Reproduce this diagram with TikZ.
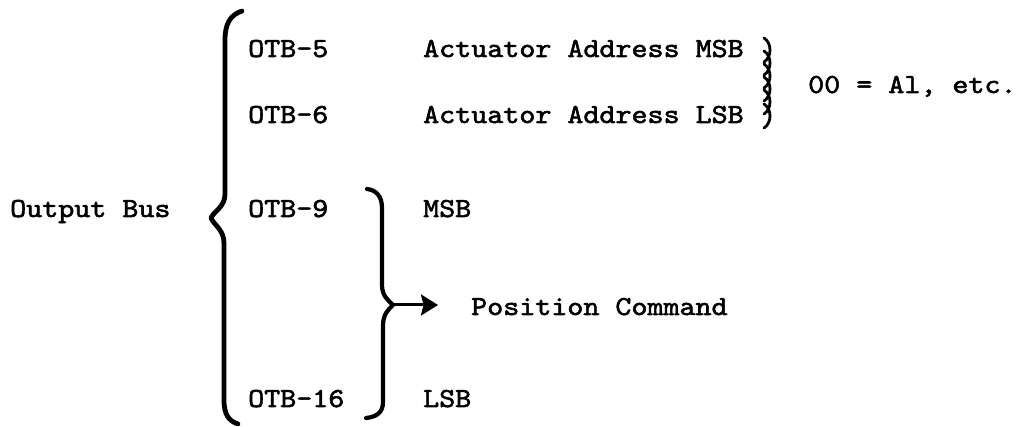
\documentclass[tikz,border=0pt]{standalone}
\usepackage{fontspec}
\newfontfamily\typer{lmmono10-regular.otf}[FakeStretch=1.11,FakeBold=2]
\usetikzlibrary{arrows.meta}
\begin{document}
\begin{tikzpicture}[x=1pt,y=-1pt,
  lbl/.style={anchor=base west,inner sep=0pt,font=\typer\fontsize{27.5}{30}\selectfont},
  bigbrace/.style={line width=4.8pt,line cap=round,line join=round},
  smallbrace/.style={line width=2.8pt,line cap=round},
  pointer/.style={line width=3pt,-{Stealth[length=17pt,width=21pt,inset=2.5pt]}}]
\useasboundingbox (0,0) rectangle (1021,427);

% labels
\node[lbl] (bus)   at (10,217)  {Output Bus};
\node[lbl] (otb5)  at (248,57)  {OTB-5};
\node[lbl] (otb6)  at (248,123) {OTB-6};
\node[lbl] (otb9)  at (248,217) {OTB-9};
\node[lbl] (otb16) at (248,407) {OTB-16};
\node[lbl] (amsb)  at (423,57)  {Actuator Address MSB};
\node[lbl] (alsb)  at (423,123) {Actuator Address LSB};
\node[lbl] (msb)   at (423,217) {MSB};
\node[lbl] (lsb)   at (423,407) {LSB};
\node[lbl] (pos)   at (471,315) {Position Command};
\node[lbl] (addr)  at (808,93)  {00 = Al, etc.};

% large brace grouping the output bus lines
\draw[bigbrace] (242,11) .. controls (230,15) and (225,24) .. (225,40)
  -- (225,194) .. controls (225,207) and (214,211) .. (211,218)
  .. controls (214,225) and (224,230) .. (224,243)
  -- (224,400) .. controls (224,415) and (229,421) .. (238,424);

% brace over the position bits
\coordinate (cusp) at (393,305);
\draw[bigbrace,line width=4.2pt] (367,189) .. controls (376,190) and (382,196) .. (382,208)
  -- (382,285) .. controls (382,296) and (388,300) .. (cusp)
  .. controls (388,310) and (383,314) .. (383,326)
  -- (383,402) .. controls (383,412) and (377,417) .. (366,418);

% arrow to the position command
\coordinate (tip) at (438,305);
\draw[pointer] (cusp) -- (tip);

% overstruck brace for the actuator address
\foreach \t in {38,51,64,77,90,104}
  \draw[smallbrace] (764,\t) .. controls (772,\t+5) and (772,\t+19) .. (764,\t+24);
\end{tikzpicture}
\end{document}
